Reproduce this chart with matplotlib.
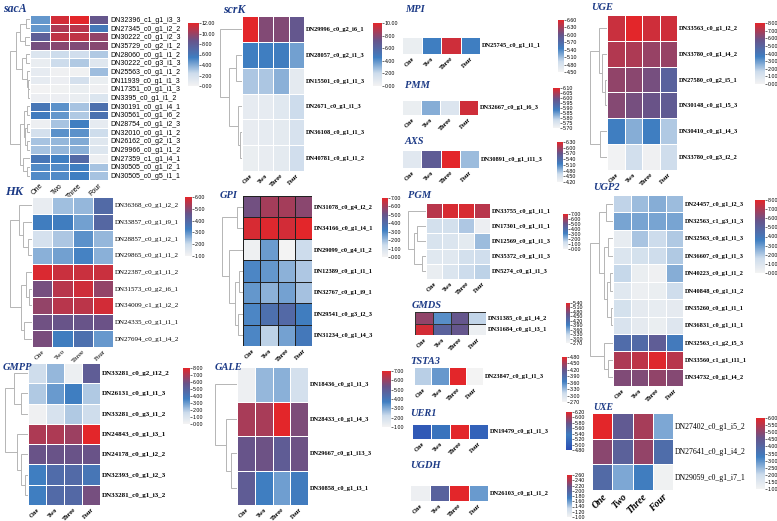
import numpy as np
import matplotlib
matplotlib.use("Agg")
import matplotlib.pyplot as plt
from matplotlib.colors import LinearSegmentedColormap, Normalize
from matplotlib.cm import ScalarMappable

plt.rcParams["font.serif"] = ["Liberation Serif", "DejaVu Serif"]
plt.rcParams["font.sans-serif"] = ["Liberation Sans", "DejaVu Sans"]

W, H = 777, 521
stages = ["One", "Two", "Three", "Four"]

# ---- data (expression, per gene x stage) ----
sacA_genes = ["DN32396_c1_g1_i3_3", "DN27345_c0_g1_i2_2", "DN30222_c0_g1_i2_3", "DN35729_c0_g2_i1_2",
              "DN28060_c0_g1_i1_2", "DN30222_c0_g3_i1_3", "DN25563_c0_g1_i1_2", "DN11939_c0_g1_i1_3",
              "DN17351_c0_g1_i1_3", "DN3395_c0_g1_i1_2", "DN30191_c0_g1_i4_1", "DN30561_c0_g1_i6_2",
              "DN28754_c0_g1_i2_3", "DN32010_c0_g1_i1_2", "DN26162_c0_g2_i1_3", "DN29966_c0_g1_i1_2",
              "DN27359_c1_g1_i4_1", "DN30505_c0_g1_i2_1", "DN30505_c0_g5_i1_1"]
sacA_vals = [[4.6, 11.5, 12.0, 8.5], [4.6, 10.5, 10.8, 5.8], [7.8, 11.0, 11.0, 9.8], [9.0, 9.5, 9.3, 9.5],
             [1.5, 2.4, 2.2, 3.0], [0.7, 2.4, 3.0, 1.3], [0.8, 0.3, 0.2, 3.4], [0.8, 0.5, 2.0, 0.6],
             [0.1, 0.2, 0.6, 0.3], [0.5, 0.5, 0.7, 1.5], [6.0, 4.8, 3.2, 6.5], [5.6, 4.6, 3.0, 6.4],
             [0.4, 3.2, 5.4, 0.8], [2.0, 4.8, 4.8, 2.3], [3.2, 3.6, 4.0, 1.3], [3.2, 3.6, 3.8, 1.4],
             [6.0, 5.4, 7.0, 0.4], [5.0, 5.0, 5.4, 3.2], [5.0, 5.0, 5.4, 3.2]]
sacA_tree = (10, (7, (5, (2, 0, 1), (2.5, 2, 3)),
                  (4, (2, 4, 5), (1.5, 6, (1, 7, (0.8, 8, 9))))),
             (5, (3, (1.5, 10, 11), (2.5, (1.5, 12, 13), (1.5, 14, 15))),
              (3.5, 16, (1.5, 17, 18))))

scrK_genes = ["DN29996_c0_g2_i6_1", "DN28057_c0_g2_i1_3", "DN15501_c0_g1_i1_3",
              "DN2671_c0_g1_i1_3", "DN36108_c0_g1_i1_3", "DN40781_c0_g1_i1_2"]
scrK_vals = [[10.0, 7.8, 7.8, 7.0], [4.5, 4.5, 4.6, 3.6], [2.6, 2.6, 3.2, 0.8],
             [0.7, 0.7, 1.0, 2.0], [0.6, 0.7, 0.8, 1.5], [0.5, 0.6, 0.8, 1.8]]
scrK_tree = (10, 0, (6, (3, 1, 2), (2, 3, (1, 4, 5))))

MPI_genes = ["DN25745_c0_g1_i1_1"]
MPI_vals = [[4.6, 5.45, 6.5, 5.45]]
PMM_genes = ["DN32667_c0_g1_i6_3"]
PMM_vals = [[5.72, 5.83, 5.75, 6.08]]
AXS_genes = ["DN30891_c0_g1_i11_3"]
AXS_vals = [[4.4, 5.6, 6.3, 4.8]]

UGE_genes = ["DN33563_c0_g1_i2_2", "DN33780_c0_g1_i4_2", "DN27580_c0_g2_i5_1",
             "DN30148_c0_g1_i5_3", "DN30410_c0_g1_i4_3", "DN33780_c0_g3_i2_2"]
UGE_vals = [[7.5, 8.0, 7.6, 7.6], [7.1, 7.0, 6.6, 6.6], [6.5, 6.4, 6.0, 5.0],
            [6.3, 6.0, 5.8, 5.4], [3.6, 2.6, 3.6, 2.0], [0.1, 1.4, 0.2, 1.5]]
UGE_tree = (10, (5, 0, (3, 1, (1.5, 2, 3))), (4, 4, 5))

HK_genes = ["DN36368_c0_g1_i2_2", "DN33857_c0_g1_i9_1", "DN28857_c0_g1_i2_1", "DN29865_c0_g1_i1_2",
            "DN22387_c0_g1_i1_2", "DN31573_c0_g2_i6_1", "DN34009_c1_g1_i2_2", "DN24335_c0_g1_i1_1",
            "DN27694_c0_g1_i4_2"]
HK_vals = [[1.3, 2.4, 2.5, 3.9], [3.3, 3.3, 2.8, 4.0], [1.8, 2.3, 3.0, 2.5], [2.6, 2.8, 3.2, 2.6],
           [5.9, 5.7, 5.7, 5.7], [4.75, 5.5, 5.75, 5.1], [5.1, 5.5, 5.55, 5.8], [4.7, 4.6, 4.6, 4.65],
           [4.8, 3.3, 3.7, 2.9]]
HK_tree = (10, (6, 0, (4, 1, (2, 2, 3))), (5, (3, 4, (1.5, 5, 6)), (3.5, 7, 8)))

GPI_genes = ["DN31078_c0_g4_i2_2", "DN34166_c0_g1_i4_1", "DN29099_c0_g4_i1_2", "DN12389_c0_g1_i1_1",
             "DN32767_c0_g1_i9_1", "DN29541_c0_g3_i2_3", "DN31234_c0_g1_i4_3"]
GPI_vals = [[5.2, 6.0, 6.0, 5.6], [6.8, 6.9, 6.7, 7.0], [0.2, 2.6, 0.0, 1.4], [3.0, 2.7, 2.2, 1.8],
            [2.7, 2.2, 2.5, 1.9], [3.0, 3.8, 4.1, 3.2], [3.0, 1.6, 2.5, 3.4]]
GPI_tree = (10, (3, 0, 1), (7, 2, (4, (2, 3, 4), (2.5, 5, 6))))

PGM_genes = ["DN33755_c0_g1_i1_1", "DN17301_c0_g1_i1_1", "DN12569_c0_g1_i1_3",
             "DN35372_c0_g1_i1_3", "DN5274_c0_g1_i1_3"]
PGM_vals = [[6.3, 6.8, 6.8, 6.3], [1.2, 1.2, 1.8, 0.3], [1.0, 0.9, 0.6, 2.0],
            [0.7, 0.7, 1.2, 1.3], [0.4, 0.9, 1.4, 1.6]]
PGM_tree = (10, 0, (7, (5, 1, 2), (2, 3, 4)))

GMDS_genes = ["DN31385_c0_g1_i4_2", "DN31684_c0_g1_i3_1"]
GMDS_vals = [[4.9, 3.8, 4.6, 3.3], [5.3, 4.4, 4.6, 2.8]]
TSTA3_genes = ["DN23847_c0_g1_i1_3"]
TSTA3_vals = [[3.2, 3.5, 4.8, 2.7]]
UER1_genes = ["DN19479_c0_g1_i1_3"]
UER1_vals = [[4.95, 5.25, 6.2, 5.05]]
UGDH_genes = ["DN26103_c0_g1_i1_2"]
UGDH_vals = [[1.05, 2.0, 2.6, 1.6]]

UGP2_genes = ["DN24457_c0_g1_i2_3", "DN32563_c1_g3_i1_3", "DN32563_c0_g1_i1_3", "DN36607_c0_g1_i1_3",
              "DN40223_c0_g1_i1_2", "DN40848_c0_g1_i1_2", "DN35260_c0_g1_i1_1", "DN36831_c0_g1_i1_1",
              "DN32563_c1_g2_i5_3", "DN33560_c1_g1_i11_1", "DN34732_c0_g1_i4_2"]
UGP2_vals = [[1.8, 2.3, 2.6, 2.3], [2.8, 2.8, 2.8, 2.8], [0.5, 2.1, 1.6, 2.0], [1.0, 1.3, 1.5, 2.0],
             [1.7, 0.4, 0.2, 2.6], [0.8, 0.3, 0.4, 1.5], [1.3, 0.6, 0.5, 0.6], [1.1, 0.6, 0.4, 0.9],
             [4.5, 4.6, 5.3, 3.8], [7.0, 7.3, 7.9, 7.2], [6.2, 6.2, 6.5, 6.3]]
UGP2_tree = (10, (6, (3, 0, 1), (4, (2, 2, 3), (2.5, (1.5, 4, 5), (1, 6, 7)))), (4, 8, (2, 9, 10)))

GMPP_genes = ["DN33281_c0_g2_i12_2", "DN26131_c0_g1_i1_3", "DN33281_c0_g3_i1_2", "DN24843_c0_g1_i3_1",
              "DN24178_c0_g1_i2_2", "DN32393_c0_g1_i2_3", "DN33281_c0_g1_i3_2"]
GMPP_vals = [[1.5, 2.4, 0.3, 5.3], [2.0, 3.0, 3.6, 2.0], [0.2, 1.2, 2.0, 1.5], [7.0, 7.0, 6.7, 8.0],
             [5.8, 5.8, 5.8, 5.8], [3.6, 4.5, 4.6, 4.0], [3.6, 4.6, 4.7, 6.0]]
GMPP_tree = (10, (6, 0, (3, 1, 2)), (5, 3, (3, 4, (1.5, 5, 6))))

GALE_genes = ["DN18436_c0_g1_i1_3", "DN28433_c0_g1_i4_3", "DN29667_c0_g1_i13_3", "DN30858_c0_g1_i3_1"]
GALE_vals = [[1.2, 2.8, 2.9, 2.0], [6.2, 6.2, 7.0, 5.6], [5.3, 5.4, 5.0, 5.4], [5.0, 3.7, 3.2, 3.8]]
GALE_tree = (10, 0, (5, 1, (3, 2, 3)))

UXE_genes = ["DN27402_c0_g1_i5_2", "DN27641_c0_g1_i4_2", "DN29059_c0_g1_i7_1"]
UXE_vals = [[6.0, 4.4, 5.3, 2.7], [5.0, 4.2, 5.1, 3.8], [3.9, 2.7, 3.3, 1.1]]

# ---- styles ----
cm_main = LinearSegmentedColormap.from_list(
    "gbr", [(0, "#f3f3f3"), (0.2, "#cddcec"), (0.45, "#3f7ec1"), (0.72, "#67548a"), (1, "#e3262a")])
cm_uer = LinearSegmentedColormap.from_list(
    "br", [(0, "#2b4db3"), (0.4, "#3d7cc0"), (0.7, "#67548a"), (1, "#e3262a")])
NAVY = "#1c3a86"
BOLD = dict(family="serif", fontweight="bold", fontsize=4.6)
PLAIN_SERIF = dict(family="serif", fontsize=5)
SANS = dict(family="sans-serif", fontsize=5)

fig = plt.figure(figsize=(W / 100, H / 100), dpi=100)


def box(x0, y0, x1, y1):
    return [x0 / W, 1 - y1 / H, (x1 - x0) / W, (y1 - y0) / H]


def draw_tree(ax, node):
    if isinstance(node, int):
        return node + 0.5, 0.0
    h, a, b = node
    ya, ha = draw_tree(ax, a)
    yb, hb = draw_tree(ax, b)
    ax.plot([ha, h, h, hb], [ya, ya, yb, yb], color="#b5b5b5", lw=0.7, solid_joinstyle="miter")
    return (ya + yb) / 2, h


def panel(title, tpos, genes, vals, lo, hi, hb, cb, ticks, tree=None, dx=None, cmap=cm_main,
          edge="white", lab=BOLD, coll=BOLD, tsize=7.5, elw=0.7):
    ax = fig.add_axes(box(*hb))
    ax.pcolormesh(np.array(vals), cmap=cmap, vmin=lo, vmax=hi, edgecolors=edge, linewidth=elw)
    ax.set_xlim(0, 4)
    ax.set_ylim(len(genes), 0)
    ax.yaxis.tick_right()
    ax.set_yticks(np.arange(len(genes)) + 0.5, genes, **lab)
    ax.set_xticks(np.arange(4) + 0.5, stages, rotation=45, ha="right", va="top",
                  rotation_mode="anchor", **coll)
    ax.tick_params(length=0, pad=1.5)
    for s in ax.spines.values():
        s.set_visible(False)
    if tree is not None:
        dax = fig.add_axes(box(dx, hb[1], hb[0], hb[3]))
        draw_tree(dax, tree)
        dax.set_xlim(tree[0] * 1.02, 0)
        dax.set_ylim(len(genes), 0)
        dax.axis("off")
    cax = fig.add_axes(box(*cb))
    cbar = fig.colorbar(ScalarMappable(Normalize(lo, hi), cmap), cax=cax, ticks=ticks, format="%.2f")
    cbar.outline.set_visible(False)
    cax.tick_params(labelsize=3.8, length=1.2, width=0.4, pad=0.6)
    fig.text(tpos[0] / W, 1 - tpos[1] / H, title, family="serif", fontweight="bold",
             style="italic", fontsize=tsize, color=NAVY, va="center", ha="left")


panel("sacA", (3, 9), sacA_genes, sacA_vals, 0, 12, (30, 15, 108, 180), (188, 23, 199, 86),
      [0, 2, 4, 6, 8, 10, 12], sacA_tree, 10, lab=SANS, coll=SANS, tsize=8.5)
panel("scrK", (223, 10), scrK_genes, scrK_vals, 0, 10, (242, 16, 304, 171), (373, 23, 382, 86),
      [0, 2, 4, 6, 8, 10], scrK_tree, 220, tsize=8.5)
panel("MPI", (405, 10), MPI_genes, MPI_vals, 4.5, 6.6, (402, 37, 480, 54), (558, 20, 564, 72),
      [4.5, 4.8, 5.1, 5.4, 5.7, 6.0, 6.3, 6.6])
panel("PMM", (405, 86), PMM_genes, PMM_vals, 5.7, 6.1, (402, 100, 478, 115), (553, 88, 560, 128),
      [5.7, 5.75, 5.8, 5.85, 5.9, 5.95, 6.0, 6.05, 6.1])
panel("AXS", (405, 142), AXS_genes, AXS_vals, 4.2, 6.3, (402, 150, 479, 168), (557, 142, 563, 182),
      [4.2, 4.5, 4.8, 5.1, 5.4, 5.7, 6.0, 6.3])
panel("UGE", (591, 8), UGE_genes, UGE_vals, 0, 8, (607, 15, 677, 170), (755, 23, 765, 84),
      list(range(9)), UGE_tree, 590)
panel("HK", (5, 192), HK_genes, HK_vals, 1, 6, (32, 197, 113, 347), (185, 197, 192, 256),
      [1, 2, 3, 4, 5, 6], HK_tree, 10, lab=PLAIN_SERIF, coll=PLAIN_SERIF, tsize=9)
panel("GPI", (220, 195), GPI_genes, GPI_vals, 0, 7, (243, 196, 312, 346), (382, 198, 388, 257),
      list(range(8)), GPI_tree, 222, edge="#222222", elw=0.6)
panel("PGM", (408, 195), PGM_genes, PGM_vals, 0, 7, (426, 203, 490, 279), (563, 214, 568, 249),
      list(range(8)), PGM_tree, 408)
panel("GMDS", (412, 306), GMDS_genes, GMDS_vals, 2.7, 5.4, (415, 312, 486, 335), (566, 303, 570, 343),
      [2.7, 3.0, 3.3, 3.6, 3.9, 4.2, 4.5, 4.8, 5.1, 5.4], edge="#333333", elw=0.5)
panel("TSTA3", (410, 362), TSTA3_genes, TSTA3_vals, 2.7, 4.8, (414, 367, 483, 385), (562, 357, 567, 402),
      [2.7, 3.0, 3.3, 3.6, 3.9, 4.2, 4.5, 4.8])
panel("UER1", (410, 413), UER1_genes, UER1_vals, 4.8, 6.2, (412, 424, 488, 439), (566, 412, 572, 450),
      [4.8, 5.0, 5.2, 5.4, 5.6, 5.8, 6.0, 6.2], cmap=cm_uer)
panel("UGDH", (410, 465), UGDH_genes, UGDH_vals, 1.0, 2.6, (410, 485, 488, 501), (567, 475, 572, 517),
      [1.0, 1.2, 1.4, 1.6, 1.8, 2.0, 2.2, 2.4, 2.6])
panel("UGP2", (593, 187), UGP2_genes, UGP2_vals, 0, 8, (613, 195, 683, 386), (755, 200, 765, 273),
      list(range(9)), UGP2_tree, 590)
panel("GMPP", (3, 368), GMPP_genes, GMPP_vals, 0, 8, (28, 363, 100, 505), (183, 368, 190, 424),
      list(range(9)), GMPP_tree, 5, lab=dict(BOLD, fontsize=5))
panel("GALE", (215, 368), GALE_genes, GALE_vals, 1, 7, (237, 367, 308, 505), (382, 371, 391, 427),
      [1, 2, 3, 4, 5, 6, 7], GALE_tree, 215)
panel("UXE", (593, 407), UXE_genes, UXE_vals, 1, 6, (592, 413, 673, 490), (756, 418, 765, 489),
      [1, 1.5, 2, 2.5, 3, 3.5, 4, 4.5, 5, 5.5, 6],
      lab=dict(family="serif", fontsize=5.6),
      coll=dict(family="serif", fontweight="bold", style="italic", fontsize=7), tsize=7)

fig.savefig("out.png", dpi=100)
